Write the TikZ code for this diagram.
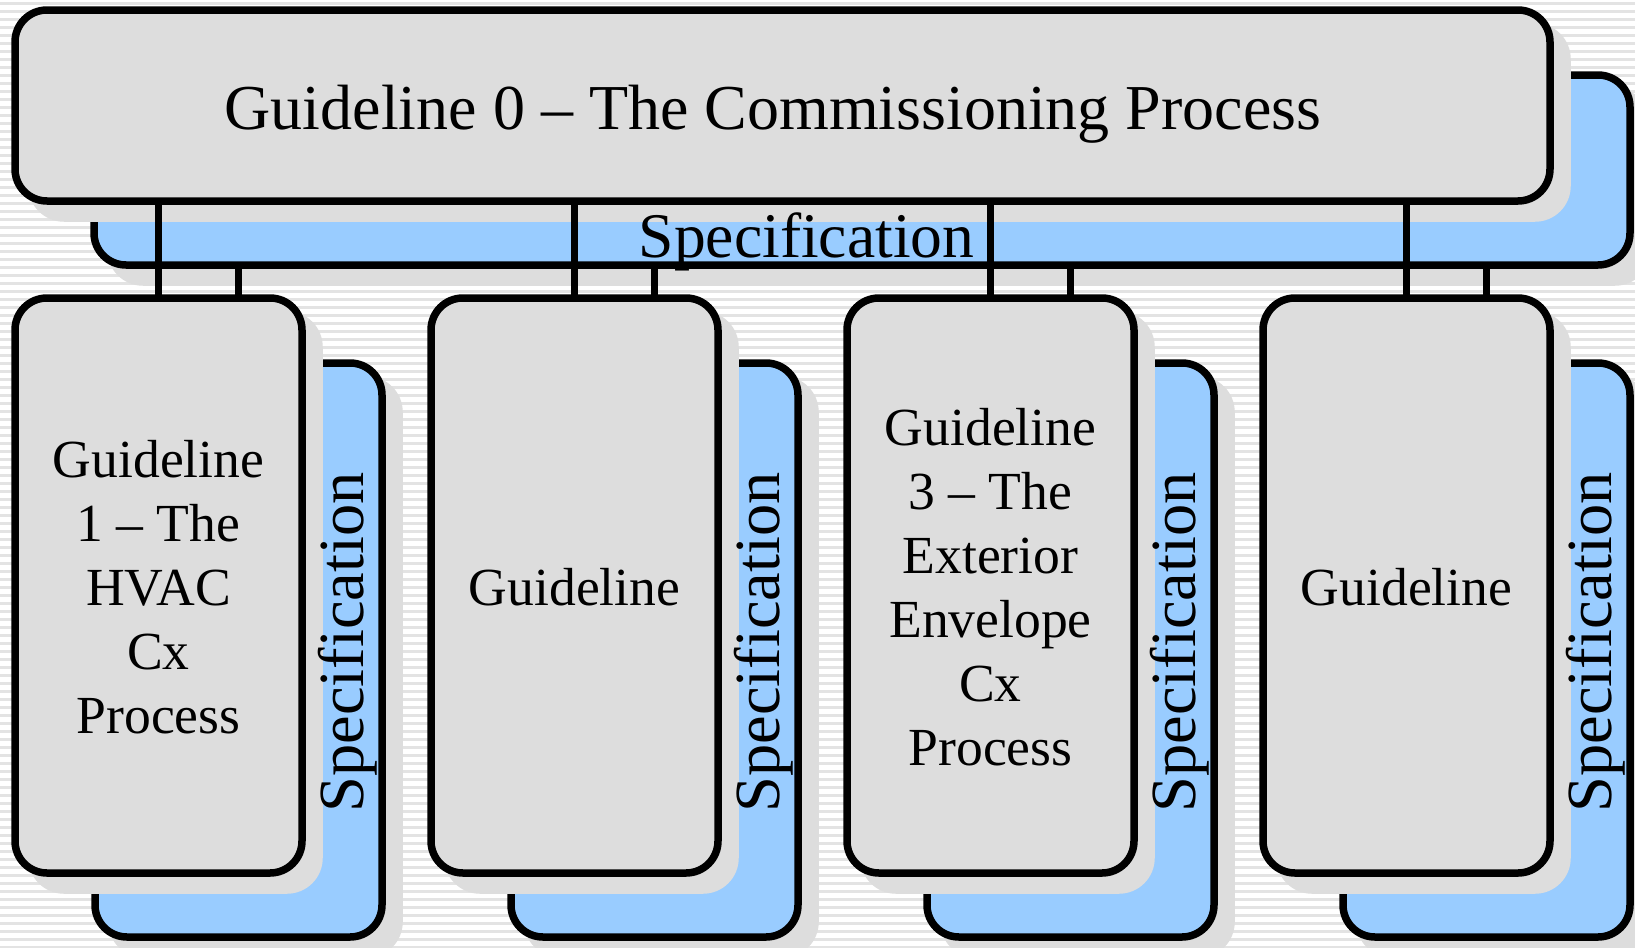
\documentclass[tikz,border=0pt]{standalone}
\usepackage{fontspec}
\setmainfont{Liberation Serif}
\usetikzlibrary{shadows}
\newlength\pxu \setlength\pxu{0.5pt}
\definecolor{boxgray}{HTML}{DDDDDD}
\definecolor{specblue}{HTML}{99CCFF}
\definecolor{stripegray}{HTML}{E3E3E3}
\newcommand\titlefont{\fontsize{32pt}{38pt}\selectfont}
\newcommand\specfont{\fontsize{31.8pt}{38pt}\selectfont}
\newcommand\vspecfont{\fontsize{32.2pt}{38pt}\selectfont}
\newcommand\boxfont{\fontsize{26.8pt}{32pt}\selectfont}
\begin{document}
\begin{tikzpicture}[x=0.5pt,y=-0.5pt,
  boxbase/.style={rectangle, rounded corners=32\pxu, draw=black, line width=7.5\pxu,
    inner sep=0pt, outer sep=0pt,
    drop shadow={shadow xshift=17\pxu, shadow yshift=-17\pxu, fill=boxgray,
      draw=boxgray, line width=7.5\pxu, opacity=1}},
  graybox/.style={boxbase, fill=boxgray},
  bluebox/.style={boxbase, fill=specblue},
  conn/.style={draw=black, line width=7.5\pxu},
  boxtext/.style={font=\boxfont, align=center, inner sep=0pt},
  vspec/.style={font=\vspecfont, rotate=90, anchor=base, inner sep=0pt}]
\useasboundingbox (0,0) rectangle (1635,948);
\fill[white] (0,0) rectangle (1635,948);
\foreach \k in {0,...,118}
  \fill[stripegray] (0,{\k*8+2}) rectangle (1635,{\k*8+4.5});

% top group
\node[bluebox, minimum width=1536\pxu, minimum height=190\pxu] (b0) at (862,170) {};
\node[graybox, minimum width=1535\pxu, minimum height=191\pxu] (g0) at (782.5,105.5) {};
\node[font=\titlefont, anchor=base, inner sep=0pt] (t0) at (773,129) {Guideline 0 – The Commissioning Process};
\node[font=\specfont, anchor=base, inner sep=0pt] (s0) at (806.5,257) {Specification};

% lower groups
\foreach \i in {1,...,4} {
  \node[bluebox, minimum width=287\pxu, minimum height=574\pxu] (b\i) at ({238.5+416*(\i-1)},650) {};
  \node[graybox, minimum width=287\pxu, minimum height=575\pxu] (g\i) at ({158.5+416*(\i-1)},585.5) {};
  \node[vspec] (v\i) at ({363+416*(\i-1)},642.5) {Specification};
}
\node[boxtext] (t1) at (158.5,587) {Guideline\\1 – The\\HVAC\\Cx\\Process};
\node[boxtext] (t2) at (574.5,587.5) {Guideline};
\node[boxtext] (t3) at (990.5,587) {Guideline\\3 – The\\Exterior\\Envelope\\Cx\\Process};
\node[boxtext] (t4) at (1406.5,587.5) {Guideline};

% connectors
\foreach \i in {1,...,4} {
  \draw[conn] (g0.south -| g\i.north) -- (g\i.north);
  \draw[conn] (b0.south -| b\i.north) -- (b\i.north |- g\i.north);
}
\end{tikzpicture}
\end{document}
